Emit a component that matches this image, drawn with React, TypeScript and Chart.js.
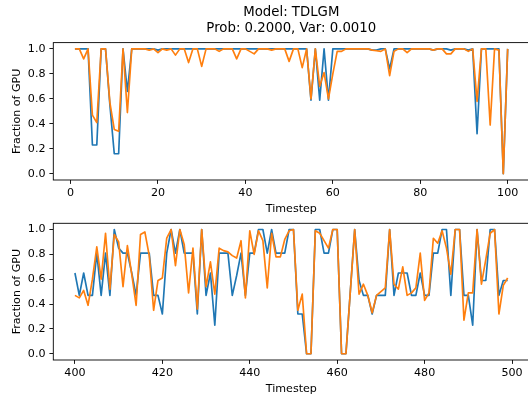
import React, { useEffect, useRef } from 'react';
import { Chart, registerables } from 'chart.js';

Chart.register(...registerables);

const TITLE_LINES = ['Model: TDLGM', 'Prob: 0.2000, Var: 0.0010'];
const X_LABEL = 'Timestep';
const Y_LABEL = 'Fraction of GPU';
const TOP_X_TICKS = [0, 20, 40, 60, 80, 100];
const BOTTOM_X_TICKS = [400, 420, 440, 460, 480, 500];
const Y_TICKS = [0, 0.2, 0.4, 0.6, 0.8, 1.0];
const TOP_START = 1;
const BOTTOM_START = 400;

const topBlue = [
  1, 1, 1, 1, 0.23, 0.23, 1, 1, 0.55, 0.16,
  0.16, 1, 0.66, 1, 1, 1, 1, 1, 1, 0.99,
  1, 1, 1, 1, 1, 1, 1, 1, 1, 1,
  1, 1, 1, 1, 1, 1, 1, 1, 1, 1,
  1, 1, 1, 1, 1, 1, 1, 1, 1, 1,
  1, 1, 1, 1, 0.59, 1, 0.59, 1, 0.59, 1,
  1, 1, 1, 1, 1, 1, 1, 1, 0.99, 0.99,
  1, 1, 0.84, 1, 1, 1, 1, 1, 1, 1,
  1, 1, 0.99, 1, 1, 1, 0.99, 1, 1, 1,
  0.99, 1, 0.32, 1, 1, 1, 1, 1, 0, 1,
];

const topOrange = [
  1, 1, 0.92, 1, 0.47, 0.41, 1, 1, 0.57, 0.355,
  0.34, 1, 0.49, 1, 1, 1, 1, 0.99, 1, 0.97,
  1, 0.99, 1, 0.95, 1, 1, 0.89, 1, 1, 0.86,
  1, 1, 1, 0.98, 1, 1, 1, 0.92, 1, 1,
  0.98, 0.96, 1, 1, 1, 0.99, 1, 1, 1, 0.9,
  1, 1, 0.85, 1, 0.6, 1, 0.7, 0.81, 0.6, 0.8,
  0.98, 0.98, 1, 1, 1, 1, 1, 1, 0.99, 0.985,
  0.98, 1, 0.785, 0.98, 1, 1, 0.97, 1, 1, 1,
  1, 1, 0.99, 1, 1, 0.96, 0.96, 1, 1, 1,
  0.98, 1, 0.58, 1, 1, 0.39, 1, 0.99, 0, 1,
];

const bottomBlue = [
  0.65, 0.47, 0.65, 0.47, 0.47, 0.81, 0.47, 0.81, 0.47, 1,
  0.85, 0.81, 0.81, 0.65, 0.47, 0.81, 0.81, 0.81, 0.47, 0.47,
  0.32, 0.81, 1, 0.81, 1, 0.81, 0.81, 0.81, 0.32, 1,
  0.47, 0.65, 0.23, 0.81, 0.81, 0.81, 0.47, 0.63, 0.81, 0.47,
  0.81, 0.81, 1, 1, 0.81, 1, 0.81, 0.81, 0.81, 1,
  1, 0.32, 0.32, 0, 0, 1, 1, 0.81, 0.81, 1,
  1, 0, 0, 0.5, 1, 0.59, 0.47, 0.47, 0.32, 0.47,
  0.47, 0.47, 1, 0.47, 0.65, 0.65, 0.65, 0.47, 0.47, 0.65,
  0.47, 0.47, 0.81, 0.81, 1, 1, 0.47, 1, 1, 0.47,
  0.47, 0.23, 1, 0.59, 0.59, 1, 1, 0.47, 0.59, 0.59,
];

const bottomOrange = [
  0.47, 0.45, 0.51, 0.39, 0.6, 0.86, 0.6, 0.97, 0.52, 0.96,
  0.9, 0.54, 0.87, 0.64, 0.39, 0.96, 0.98, 0.79, 0.35, 0.59,
  0.61, 0.93, 1, 0.71, 1, 0.88, 0.49, 0.85, 0.36, 1,
  0.54, 0.74, 0.48, 0.85, 0.83, 0.82, 0.79, 0.77, 0.91, 0.45,
  0.99, 0.8, 0.99, 0.91, 0.53, 0.97, 0.78, 0.78, 0.92, 0.99,
  1, 0.35, 0.48, 0, 0, 0.99, 0.97, 0.91, 0.85, 1,
  1, 0, 0, 0.5, 1, 0.48, 0.56, 0.47, 0.33, 0.47,
  0.5, 0.53, 1, 0.56, 0.52, 0.7, 0.47, 0.49, 0.53, 0.81,
  0.43, 0.49, 0.93, 0.89, 0.99, 0.85, 0.64, 1, 1, 0.27,
  0.49, 0.49, 1, 0.56, 0.76, 0.97, 1, 0.32, 0.55, 0.61,
];

const FONT = 'DejaVu Sans';
const BLUE = '#1f77b4';
const ORANGE = '#ff7f0e';

const framePlugin = {
  id: 'frame',
  afterDatasetsDraw(chart: any) {
    const { ctx, chartArea } = chart;
    ctx.save();
    ctx.strokeStyle = '#000';
    ctx.lineWidth = 0.9;
    ctx.strokeRect(chartArea.left, chartArea.top, chartArea.right - chartArea.left, chartArea.bottom - chartArea.top);
    ctx.restore();
  },
};

type PanelProps = {
  start: number;
  blue: number[];
  orange: number[];
  xTicks: number[];
  withTitle: boolean;
  width: number;
  height: number;
  top: number;
  padTop: number;
  xAxisHeight: number;
  xTitlePadBottom: number;
};

function Panel(p: PanelProps) {
  const ref = useRef<HTMLCanvasElement | null>(null);
  useEffect(() => {
    if (!ref.current) return;
    const xs = p.blue.map((_, i) => p.start + i);
    const xMin = p.start - 0.05 * (xs.length - 1);
    const xMax = p.start + (xs.length - 1) + 0.05 * (xs.length - 1);
    const chart = new Chart(ref.current, {
      type: 'line',
      data: {
        datasets: [
          {
            data: xs.map((x, i) => ({ x, y: p.blue[i] })),
            borderColor: BLUE,
            backgroundColor: BLUE,
            borderWidth: 1.67,
            pointRadius: 0,
            tension: 0,
            fill: false,
            borderJoinStyle: 'round',
            order: 1,
          },
          {
            data: xs.map((x, i) => ({ x, y: p.orange[i] })),
            borderColor: ORANGE,
            backgroundColor: ORANGE,
            borderWidth: 1.67,
            pointRadius: 0,
            tension: 0,
            fill: false,
            borderJoinStyle: 'round',
            order: 0,
          },
        ],
      },
      options: {
        responsive: false,
        animation: false,
        devicePixelRatio: 1,
        events: [],
        layout: { padding: { left: 0, right: p.width - 529.3, top: p.padTop, bottom: 0 } },
        plugins: {
          legend: { display: false },
          tooltip: { enabled: false },
          title: {
            display: p.withTitle,
            text: TITLE_LINES,
            color: '#000',
            fullSize: false,
            font: { family: FONT, size: 13.3, weight: 'normal', lineHeight: 1.2 },
            padding: { top: 4.3, bottom: 6.4 },
          },
        },
        scales: {
          x: {
            type: 'linear',
            min: xMin,
            max: xMax,
            afterBuildTicks: (s: any) => {
              s.ticks = p.xTicks.map((v) => ({ value: v }));
            },
            afterFit: (s: any) => {
              s.height = p.xAxisHeight;
              s.paddingLeft = 0;
              s.paddingRight = 0;
            },
            ticks: {
              color: '#000',
              font: { family: FONT, size: 11.1 },
              padding: 2.6,
              maxRotation: 0,
              autoSkip: false,
              callback: (v: any) => String(v),
            },
            grid: {
              drawOnChartArea: false,
              drawTicks: true,
              tickLength: 3.9,
              tickColor: '#000',
              tickWidth: 0.9,
            },
            border: { display: false },
            title: {
              display: true,
              text: X_LABEL,
              color: '#000',
              font: { family: FONT, size: 11.1, lineHeight: 1.2 },
              padding: { top: 0, bottom: p.xTitlePadBottom },
            },
          },
          y: {
            type: 'linear',
            min: -0.05,
            max: 1.05,
            afterBuildTicks: (s: any) => {
              s.ticks = Y_TICKS.map((v) => ({ value: v }));
            },
            afterFit: (s: any) => {
              s.width = 53.3;
              s.paddingTop = 0;
              s.paddingBottom = 0;
            },
            ticks: {
              color: '#000',
              font: { family: FONT, size: 11.1 },
              padding: 3.9,
              autoSkip: false,
              callback: (v: any) => Number(v).toFixed(1),
            },
            grid: {
              drawOnChartArea: false,
              drawTicks: true,
              tickLength: 3.9,
              tickColor: '#000',
              tickWidth: 0.9,
            },
            border: { display: false },
            title: {
              display: true,
              text: Y_LABEL,
              color: '#000',
              font: { family: FONT, size: 11.1, lineHeight: 1.2 },
              padding: { top: 10.3, bottom: 0 },
            },
          },
        },
      },
      plugins: [framePlugin],
    } as any);
    return () => chart.destroy();
  }, []);
  return (
    <canvas
      ref={ref}
      width={p.width}
      height={p.height}
      style={{ position: 'absolute', left: 0, top: p.top, width: p.width, height: p.height, display: 'block' }}
    />
  );
}

export default function App() {
  return (
    <div
      style={{
        position: 'fixed',
        left: 0,
        top: 0,
        width: 528,
        height: 398,
        overflow: 'hidden',
        background: '#fff',
      }}
    >
      <Panel
        start={TOP_START}
        blue={topBlue}
        orange={topOrange}
        xTicks={TOP_X_TICKS}
        withTitle={true}
        width={540}
        height={216}
        top={0}
        padTop={0}
        xAxisHeight={36}
        xTitlePadBottom={0.5}
      />
      <Panel
        start={BOTTOM_START}
        blue={bottomBlue}
        orange={bottomOrange}
        xTicks={BOTTOM_X_TICKS}
        withTitle={false}
        width={540}
        height={182}
        top={216}
        padTop={7.3}
        xAxisHeight={38}
        xTitlePadBottom={2.4}
      />
    </div>
  );
}
